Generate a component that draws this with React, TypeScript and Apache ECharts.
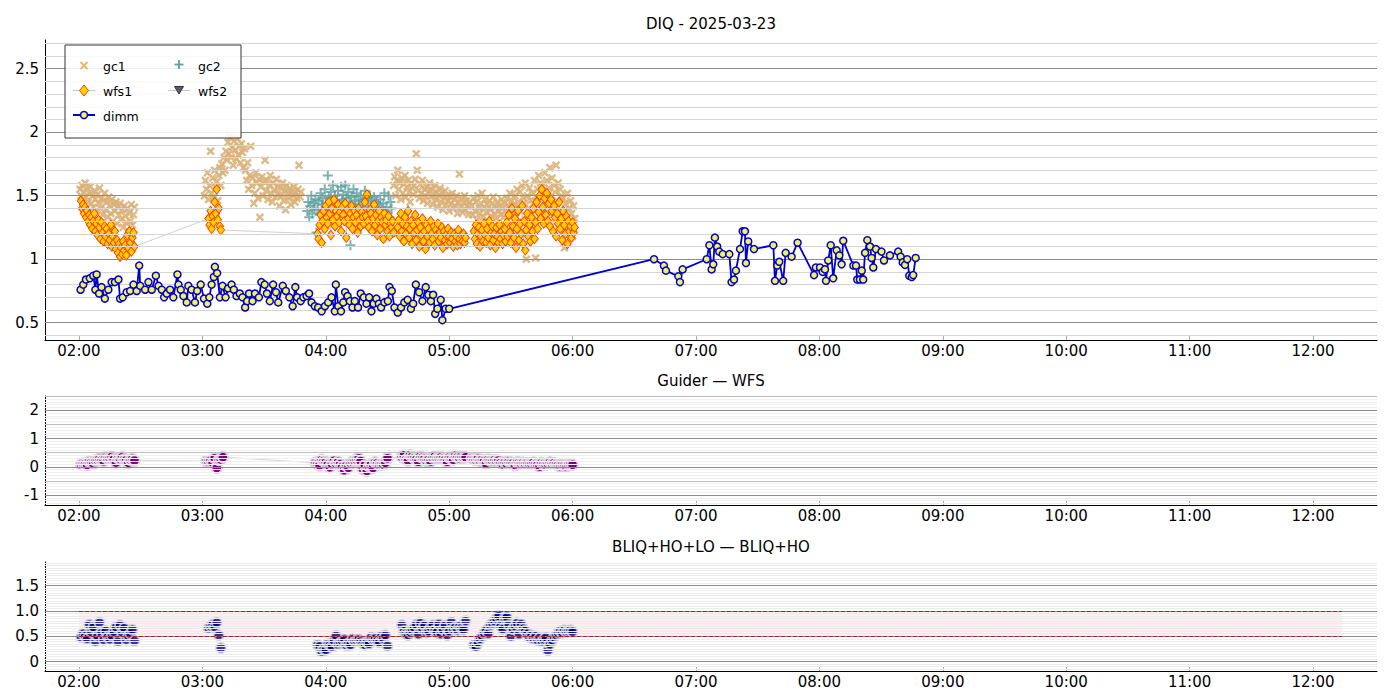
import React, { useEffect, useRef } from "react";
import * as echarts from "echarts";

// ---------- axes / ticks ----------
const X_MIN = 103.5; // minutes after 00:00
const X_MAX = 751.1;
const X_TICKS = [120, 180, 240, 300, 360, 420, 480, 540, 600, 660, 720];
const Y1_TICKS = [0.5, 1, 1.5, 2, 2.5];
const Y2_TICKS = [-1, 0, 1, 2];
const Y3_TICKS = [0, 0.5, 1.0, 1.5];
const CADENCE_GC_WFS = 0.5; // minutes between gc / wfs samples
const CADENCE_DIFF = 1.0; // minutes between difference samples (panels 2, 3)

// ---------- gc1 (start minute of each segment + values) ----------
const gc1Starts = [120.5, 181, 273, 311];
const gc1A = [
  1.55, 1.5, 1.58, 1.47, 1.53, 1.6, 1.49, 1.56, 1.45, 1.52,
  1.57, 1.44, 1.5, 1.41, 1.54, 1.47, 1.38, 1.51, 1.44, 1.56,
  1.4, 1.48, 1.35, 1.46, 1.52, 1.39, 1.45, 1.33, 1.49, 1.42,
  1.36, 1.47, 1.3, 1.43, 1.38, 1.45, 1.28, 1.41, 1.35, 1.44,
  1.31, 1.39, 1.25, 1.42, 1.34, 1.29, 1.4, 1.22, 1.36, 1.3,
  1.43, 1.27, 1.35, 1.41,
];
const gc1B = [
  1.5, 1.62, 1.55, 1.68, 1.47, 1.58, 1.85, 1.52, 1.64, 1.49, 1.7, 1.56, 1.61, 1.46, 1.66,
  1.72, 1.58, 1.75, 1.68, 1.8, 1.7,
  1.85, 1.78, 1.92, 1.83, 1.96, 1.8, 1.88, 1.74, 1.93, 1.86, 1.79, 1.95, 1.82, 1.89, 1.76, 1.91, 1.84, 1.72, 1.87, 1.7,
  1.62, 1.76, 1.55, 1.66, 1.89, 1.58, 1.64, 1.44, 1.52, 1.68, 1.6, 1.48, 1.63, 1.33, 1.57, 1.65, 1.5, 1.61, 1.78, 1.54,
  1.62, 1.47, 1.58, 1.66, 1.52, 1.45, 1.6, 1.55, 1.49, 1.63, 1.51, 1.57, 1.42, 1.56, 1.5, 1.6, 1.46, 1.54, 1.39, 1.58,
  1.52, 1.48, 1.56, 1.43, 1.53, 1.5, 1.57, 1.45, 1.52, 1.48, 1.55, 1.74, 1.49, 1.53,
];
const gc1D = [
  1.58, 1.65, 1.5, 1.62, 1.7, 1.55, 1.6, 1.47, 1.64, 1.52,
  1.59, 1.66, 1.49, 1.57, 1.62, 1.53, 1.45, 1.6, 1.56, 1.51,
  1.58, 1.63, 1.83, 1.7, 1.54, 1.48, 1.59, 1.52, 1.62, 1.46,
  1.55, 1.5, 1.57, 1.44, 1.53, 1.6, 1.49, 1.55, 1.43, 1.51,
  1.58, 1.47, 1.53, 1.41, 1.5, 1.56, 1.45, 1.52, 1.39, 1.48,
  1.54, 1.43, 1.5, 1.46, 1.38, 1.49, 1.44, 1.52, 1.4, 1.47,
  1.42, 1.5, 1.36, 1.45, 1.67, 1.41, 1.48, 1.37, 1.44, 1.5,
  1.39, 1.46, 1.42, 1.35, 1.45,
];
const gc1E = [
  1.42, 1.35, 1.48, 1.38, 1.45, 1.31, 1.5, 1.4, 1.36, 1.44,
  1.52, 1.33, 1.41, 1.47, 1.37, 1.43, 1.3, 1.46, 1.39, 1.34,
  1.44, 1.49, 1.36, 1.41, 1.32, 1.45, 1.38, 1.42, 1.35, 1.47,
  1.4, 1.33, 1.44, 1.38, 1.48, 1.36, 1.42, 1.52, 1.39, 1.46,
  1.34, 1.43, 1.5, 1.37, 1.55, 1.45, 1.41, 1.53, 1.38, 1.58,
  1.48, 1.44, 1.6, 1.0, 1.5, 1.4, 1.56, 1.46, 1.36, 1.52,
  1.43, 1.62, 1.01, 1.49,
  1.55, 1.66, 1.47, 1.6, 1.4, 1.58, 1.52, 1.68, 1.44, 1.62,
  1.5, 1.56, 1.72, 1.48, 1.64, 1.42, 1.58, 1.53, 1.74, 1.46,
  1.6, 1.38, 1.55, 1.5, 1.35, 1.48, 1.09, 1.44, 1.3, 1.52,
  1.4, 1.25, 1.46, 1.36, 1.18, 1.42, 1.32,
];

// ---------- gc2 ----------
const gc2Start = 231;
const gc2C = [
  1.38, 1.45, 1.33, 1.42, 1.5, 1.36, 1.44, 1.4, 1.47, 1.21,
  1.39, 1.46, 1.35, 1.52, 1.43, 1.48, 1.37, 1.55, 1.44, 1.41,
  1.66, 1.49, 1.38, 1.53, 1.45, 1.58, 1.4, 1.5, 1.36, 1.47,
  1.54, 1.43, 1.39, 1.57, 1.46, 1.51, 1.42, 1.58, 1.48, 1.37,
  1.53, 1.44, 1.11, 1.49, 1.4, 1.55, 1.46, 1.42, 1.52, 1.38,
  1.47, 1.43, 1.5, 1.36, 1.45, 1.41, 1.54, 1.39, 1.48, 1.44,
  1.35, 1.5, 1.42, 1.46, 1.33, 1.49, 1.4, 1.45, 1.37, 1.43,
  1.3, 1.47, 1.39, 1.34, 1.44, 1.52, 1.38, 1.41, 1.36, 1.5,
  1.33, 1.45, 1.4,
];

// ---------- wfs1 ----------
const wfs1Starts = [121, 183, 236, 275, 312];
const wfs1A = [
  1.46, 1.4, 1.43, 1.36, 1.41, 1.33, 1.38, 1.3, 1.35, 1.27,
  1.33, 1.24, 1.3, 1.36, 1.22, 1.28, 1.19, 1.31, 1.25, 1.16,
  1.29, 1.21, 1.14, 1.26, 1.18, 1.24, 1.12, 1.2, 1.15, 1.27,
  1.1, 1.18, 1.13, 1.22, 1.08, 1.15, 1.05, 1.12, 1.02, 1.09,
  1.04, 1.14, 1.07, 1.11, 1.03, 1.19, 1.09, 1.22, 1.13, 1.06,
  1.17, 1.21, 1.1,
];
const wfs1B = [1.32, 1.27, 1.38, 1.24, 1.34, 1.29, 1.45, 1.36, 1.55, 1.31, 1.4, 1.26, 1.23];
const wfs1C = [
  1.2, 1.16, 1.27, 1.35, 1.13, 1.3, 1.38, 1.24, 1.42, 1.33,
  1.28, 1.45, 1.36, 1.19, 1.4, 1.31, 1.47, 1.26, 1.38, 1.34,
  1.43, 1.29, 1.37, 1.22, 1.41, 1.35, 1.3, 1.44, 1.17, 1.39,
  1.32, 1.27, 1.36, 1.42, 1.24, 1.33, 1.38, 1.29, 1.35, 1.21,
  1.4, 1.31, 1.26, 1.37, 1.33, 1.28, 1.45, 1.34, 1.51, 1.3,
  1.25, 1.39, 1.36, 1.22, 1.32, 1.43, 1.27, 1.35, 1.19, 1.3,
  1.38, 1.24, 1.33, 1.29, 1.16, 1.36, 1.27, 1.31, 1.22, 1.34,
  1.18, 1.28, 1.25, 1.3, 1.21,
];
const wfs1D = [
  1.25, 1.31, 1.18, 1.36, 1.22, 1.28, 1.14, 1.33, 1.2, 1.26,
  1.38, 1.17, 1.24, 1.3, 1.12, 1.27, 1.21, 1.35, 1.15, 1.23,
  1.29, 1.1, 1.25, 1.19, 1.32, 1.14, 1.22, 1.08, 1.27, 1.18,
  1.24, 1.13, 1.3, 1.2, 1.16, 1.26, 1.11, 1.23, 1.19, 1.28,
  1.14, 1.21, 1.17, 1.25, 1.09, 1.22, 1.15, 1.19, 1.12, 1.24,
  1.18, 1.13, 1.21, 1.16, 1.1, 1.2, 1.14, 1.18, 1.11, 1.23,
  1.16, 1.12, 1.19, 1.14, 1.2, 1.13, 1.17,
];
const wfs1E = [
  1.22, 1.16, 1.27, 1.12, 1.2, 1.25, 1.1, 1.18, 1.23, 1.14,
  1.28, 1.19, 1.13, 1.24, 1.17, 1.3, 1.11, 1.21, 1.26, 1.15,
  1.2, 1.09, 1.25, 1.18, 1.13, 1.27, 1.16, 1.22, 1.12, 1.19,
  1.24, 1.14, 1.29, 1.18, 1.35, 1.21, 1.13, 1.4, 1.26, 1.17,
  1.32, 1.09, 1.24, 1.38, 1.15, 1.28, 1.2, 1.42, 1.12, 1.3,
  1.07, 1.23, 1.36, 1.18, 1.27, 1.14, 1.33, 1.22, 1.4, 1.16,
  1.29, 1.45, 1.24, 1.37, 1.5, 1.32, 1.55, 1.41, 1.28, 1.48,
  1.35, 1.52, 1.3, 1.44, 1.26, 1.47, 1.38, 1.22, 1.42, 1.33,
  1.18, 1.36, 1.28, 1.45, 1.24, 1.32, 1.15, 1.38, 1.27, 1.2,
  1.34, 1.12, 1.3, 1.22, 1.26, 1.17, 1.29, 1.21, 1.25,
];

// ---------- dimm: [minute after 00:00, seeing] ----------
const dimmData: [number, number][] = [
  [120.8, 0.76], [122.1, 0.8], [123.4, 0.84], [125.3, 0.85], [127.0, 0.87], [128.0, 0.76], [128.6, 0.88],
  [129.8, 0.73], [131.0, 0.78], [132.6, 0.69], [134.3, 0.76], [135.9, 0.82], [137.5, 0.82], [139.2, 0.84],
  [140.0, 0.69], [141.3, 0.7], [143.2, 0.74], [144.9, 0.75], [146.5, 0.8], [148.1, 0.75], [149.3, 0.95],
  [149.8, 0.79], [152.2, 0.76], [153.8, 0.82], [155.4, 0.76], [157.4, 0.87], [158.7, 0.79], [160.3, 0.76],
  [161.4, 0.7], [162.7, 0.73], [164.3, 0.76], [165.9, 0.7], [167.9, 0.88], [168.4, 0.8], [169.5, 0.76],
  [170.8, 0.71], [172.4, 0.66], [173.2, 0.79], [174.8, 0.76], [176.4, 0.66], [177.5, 0.75], [179.2, 0.8],
  [180.8, 0.69], [182.4, 0.65], [183.4, 0.7], [184.5, 0.8], [185.6, 0.86], [186.1, 0.94], [187.2, 0.89],
  [188.5, 0.7], [189.8, 0.79], [191.3, 0.7], [192.5, 0.77], [194.2, 0.8], [195.3, 0.76], [196.6, 0.71],
  [198.2, 0.73], [199.5, 0.7], [200.8, 0.62], [201.8, 0.67], [202.7, 0.73], [204.4, 0.67], [205.6, 0.73],
  [207.5, 0.7], [208.7, 0.82], [210.3, 0.8], [211.4, 0.73], [212.8, 0.67], [214.4, 0.8], [215.8, 0.74],
  [216.9, 0.66], [219.1, 0.79], [220.6, 0.75], [222.3, 0.7], [223.9, 0.63], [225.2, 0.78], [226.1, 0.7],
  [227.8, 0.67], [229.1, 0.7], [230.7, 0.71], [231.9, 0.73], [233.1, 0.66], [234.7, 0.63], [236.3, 0.62],
  [238.0, 0.59], [239.6, 0.63], [241.2, 0.66], [242.8, 0.7], [244.4, 0.59], [244.9, 0.8], [246.1, 0.63],
  [247.4, 0.59], [248.5, 0.66], [249.4, 0.74], [250.6, 0.71], [251.7, 0.67], [253.0, 0.62], [254.1, 0.67],
  [255.7, 0.62], [257.0, 0.73], [258.5, 0.7], [259.8, 0.65], [261.1, 0.7], [262.2, 0.59], [263.3, 0.65],
  [264.6, 0.69], [265.8, 0.65], [266.9, 0.62], [268.5, 0.66], [270.2, 0.67], [271.0, 0.78], [272.1, 0.75],
  [273.4, 0.62], [275.0, 0.58], [276.6, 0.62], [278.2, 0.66], [279.8, 0.68], [281.4, 0.61], [282.5, 0.65],
  [283.8, 0.8], [285.4, 0.74], [287.0, 0.67], [288.6, 0.78], [289.9, 0.72], [291.1, 0.67], [292.2, 0.72],
  [293.2, 0.57], [294.3, 0.61], [295.9, 0.68], [296.7, 0.52], [298.3, 0.61], [300.0, 0.61],
  [399.6, 1.0], [404.4, 0.95], [405.4, 0.91], [411.4, 0.865], [412.2, 0.82], [413.5, 0.92], [425.2, 1.0],
  [426.5, 1.11], [427.6, 0.92], [428.4, 0.96], [429.2, 1.17], [430.3, 1.1], [431.3, 1.06], [433.0, 1.04],
  [436.2, 1.04], [437.3, 0.82], [438.5, 0.84], [439.4, 0.91], [441.4, 1.08], [442.7, 1.22], [443.8, 1.22],
  [444.3, 0.97], [445.4, 1.14], [448.2, 1.08], [457.6, 1.11], [458.4, 0.83], [459.5, 0.95], [460.5, 0.98],
  [462.4, 0.83], [463.6, 1.05], [466.5, 1.02], [469.4, 1.13], [477.4, 0.875], [478.3, 0.935], [480.3, 0.935],
  [481.6, 0.9], [482.7, 0.92], [483.2, 0.83], [484.3, 0.99], [485.5, 1.11], [486.7, 0.85], [488.4, 1.07],
  [489.7, 1.03], [490.8, 0.96], [491.6, 1.145], [496.5, 0.95], [497.8, 0.95], [498.4, 0.84], [499.7, 0.84],
  [500.6, 0.91], [501.3, 0.84], [502.2, 1.05], [503.3, 1.15], [504.6, 1.1], [505.4, 1.01], [506.2, 0.935],
  [507.5, 1.08], [510.2, 1.06], [511.4, 0.99], [514.3, 1.03], [518.3, 1.06], [519.5, 1.02], [520.5, 0.975],
  [521.6, 0.955], [522.7, 1.0], [523.7, 0.87], [524.9, 0.86], [525.6, 0.875], [526.8, 1.01],
];

// ---------- Guider - WFS ----------
const gwStarts = [121, 182, 235, 277, 311];
const gwA = [
  0.08, 0.12, 0.1, 0.06, 0.18, 0.15, 0.12, 0.22, 0.25, 0.28,
  0.23, 0.2, 0.33, 0.29, 0.31, 0.35, 0.27, 0.15, 0.3, 0.28,
  0.34, 0.26, 0.23, 0.14, 0.25, 0.28, 0.22,
];
const gwB = [0.2, 0.18, 0.22, 0.15, 0.3, -0.04, 0.24, 0.26, 0.34];
const gwC = [
  0.14, 0.1, 0.05, 0.25, 0.2, 0.16, 0.08, -0.02, 0.1, 0.21,
  0.12, 0.17, 0.09, 0.0, -0.12, 0.04, -0.03, 0.13, 0.18, 0.22,
  0.26, 0.3, 0.2, -0.08, 0.05, -0.15, 0.02, 0.07, -0.04, 0.16,
  0.12, 0.06, 0.1, 0.08, 0.14, 0.3,
];
const gwD = [
  0.35, 0.4, 0.25, 0.22, 0.42, 0.36, 0.3, 0.26, 0.18, 0.37,
  0.32, 0.28, 0.21, 0.26, 0.19, 0.33, 0.36, 0.29, 0.31, 0.34,
  0.28, 0.24, 0.18, 0.33, 0.29, 0.25, 0.39, 0.34, 0.3, 0.36,
  0.32, 0.34,
];
const gwE = [
  0.3, 0.26, 0.24, 0.28, 0.21, 0.25, 0.2, 0.11, 0.26, 0.22,
  0.2, 0.24, 0.19, 0.22, 0.14, 0.09, 0.15, 0.11, 0.19, 0.14,
  0.12, 0.06, 0.16, 0.15, 0.12, 0.14, 0.11, 0.13, 0.1, 0.12,
  0.15, 0.09, 0.06, 0.01, 0.14, 0.1, 0.07, 0.12, 0.16, 0.11,
  0.13, 0.08, 0.05, 0.02, 0.07, 0.04, 0.01, 0.06, 0.09, 0.07,
];

// ---------- BLIQ+HO+LO - BLIQ+HO ----------
const blStarts = [121, 183, 236, 277, 312];
const blA = [
  0.48, 0.55, 0.5, 0.45, 0.73, 0.58, 0.68, 0.4, 0.5, 0.77,
  0.57, 0.43, 0.61, 0.49, 0.44, 0.51, 0.59, 0.68, 0.4, 0.72,
  0.57, 0.66, 0.43, 0.5, 0.55, 0.63, 0.41,
];
const blB = [0.66, 0.7, 0.73, 0.68, 0.77, 0.52, 0.27];
const blC = [
  0.33, 0.3, 0.2, 0.25, 0.23, 0.35, 0.33, 0.3, 0.41, 0.51,
  0.34, 0.37, 0.4, 0.44, 0.32, 0.36, 0.33, 0.45, 0.4, 0.42,
  0.44, 0.4, 0.36, 0.33, 0.38, 0.35, 0.48, 0.44, 0.46, 0.41,
  0.38, 0.5, 0.45, 0.52, 0.31,
];
const blD = [
  0.72, 0.6, 0.55, 0.52, 0.58, 0.62, 0.67, 0.73, 0.54, 0.76,
  0.65, 0.71, 0.57, 0.6, 0.68, 0.72, 0.62, 0.58, 0.74, 0.54,
  0.63, 0.71, 0.52, 0.6, 0.78, 0.64, 0.68, 0.62, 0.7, 0.66,
  0.63, 0.8,
];
const blE = [
  0.33, 0.3, 0.38, 0.45, 0.5, 0.56, 0.62, 0.55, 0.72, 0.76,
  0.8, 0.85, 0.9, 0.7, 0.64, 0.86, 0.88, 0.72, 0.5, 0.64,
  0.7, 0.76, 0.54, 0.74, 0.65, 0.61, 0.55, 0.48, 0.52, 0.45,
  0.5, 0.42, 0.47, 0.4, 0.44, 0.48, 0.22, 0.34, 0.42, 0.48,
  0.52, 0.56, 0.6, 0.57, 0.62, 0.58, 0.6, 0.62, 0.59,
];

// target band for panel 3
const BAND_LOW = 0.5;
const BAND_HIGH = 1.0;
const BAND_START = 120;
const BAND_END = 734;

// ---------- helpers ----------
const FONT = "DejaVu Sans";
const seg = (start: number, vals: number[], step: number) => vals.map((v, i) => [start + i * step, v]);
const segs = (starts: number[], list: number[][], step: number) =>
  list.reduce((acc: number[][], vals, k) => acc.concat(seg(starts[k], vals, step)), []);

const fmtTime = (v: number) => {
  const h = Math.floor(v / 60);
  const m = Math.round(v - h * 60);
  return String(h).padStart(2, "0") + ":" + String(m).padStart(2, "0");
};

const X_PATH = "path://M0,2 L2,0 L5,3 L8,0 L10,2 L7,5 L10,8 L8,10 L5,7 L2,10 L0,8 L3,5 Z";
const PLUS_PATH = "path://M4,0 H6 V4 H10 V6 H6 V10 H4 V6 H0 V4 H4 Z";

function levels(from: number, to: number, div: number, skipEvery: number) {
  const out: number[] = [];
  for (let k = from; k <= to; k++) if (k % skipEvery !== 0) out.push(k / div);
  return out;
}

function gridLineSeries(idx: number, groups: { vals: number[]; color: string }[]) {
  const data: any[] = [];
  groups.forEach((g) =>
    g.vals.forEach((v) => data.push({ yAxis: v, lineStyle: { color: g.color, width: 1, type: "solid" } }))
  );
  return {
    type: "line",
    xAxisIndex: idx,
    yAxisIndex: idx,
    data: [],
    silent: true,
    z: 0,
    markLine: { silent: true, symbol: ["none", "none"], label: { show: false }, data },
  };
}

function xAxis(idx: number) {
  return {
    type: "value",
    gridIndex: idx,
    min: X_MIN,
    max: X_MAX,
    axisLine: { show: true, onZero: false, lineStyle: { color: "#000", width: 1 } },
    axisTick: { show: true, inside: true, length: 4, customValues: X_TICKS, lineStyle: { color: "#aaa" } },
    axisLabel: { customValues: X_TICKS, formatter: fmtTime, fontSize: 15, fontFamily: FONT, color: "#000", margin: 3 },
    splitLine: { show: false },
  };
}

function yAxis(idx: number, min: number, max: number, ticks: number[], fmt?: (v: number) => string) {
  return {
    type: "value",
    gridIndex: idx,
    min,
    max,
    axisLine: { show: true, onZero: false, lineStyle: { color: "#000", width: 1 } },
    axisTick: { show: false },
    axisLabel: { customValues: ticks, fontSize: 15, fontFamily: FONT, color: "#000", margin: 6, formatter: fmt },
    splitLine: { show: false },
  };
}

function buildOption() {
  const gc1 = segs(gc1Starts, [gc1A, gc1B, gc1D, gc1E], CADENCE_GC_WFS);
  const gc2 = seg(gc2Start, gc2C, CADENCE_GC_WFS);
  const wfs1 = segs(wfs1Starts, [wfs1A, wfs1B, wfs1C, wfs1D, wfs1E], CADENCE_GC_WFS);
  const guider = segs(gwStarts, [gwA, gwB, gwC, gwD, gwE], CADENCE_DIFF);
  const bliq = segs(blStarts, [blA, blB, blC, blD, blE], CADENCE_DIFF);

  const txt = (x: number, y: number, text: string, size: number, align = "left") => ({
    type: "text",
    x,
    y,
    z: 20,
    style: { text, fontSize: size, fontFamily: FONT, fill: "#000", align, verticalAlign: "middle" },
  });
  const ln = (x1: number, y1: number, x2: number, y2: number, stroke: string, lw: number) => ({
    type: "line",
    z: 20,
    shape: { x1, y1, x2, y2 },
    style: { stroke, lineWidth: lw },
  });

  return {
    animation: false,
    backgroundColor: "#fff",
    grid: [
      { left: 45, right: 23, top: 40, height: 300 },
      { left: 45, right: 23, top: 396, height: 109 },
      { left: 45, right: 23, top: 562, height: 109 },
    ],
    xAxis: [xAxis(0), xAxis(1), xAxis(2)],
    yAxis: [
      yAxis(0, 0.364, 2.726, Y1_TICKS),
      yAxis(1, -1.353, 2.505, Y2_TICKS),
      yAxis(2, -0.186, 1.966, Y3_TICKS, (v: number) => (v === 0 ? "0" : v.toFixed(1))),
    ],
    series: [
      gridLineSeries(0, [
        { vals: levels(4, 27, 10, 5), color: "#d4d4d4" },
        { vals: Y1_TICKS, color: "#8c8c8c" },
      ]),
      gridLineSeries(1, [
        { vals: levels(-13, 25, 10, 5), color: "#efefef" },
        { vals: [-0.5, 0.5, 1.5, 2.5], color: "#bdbdbd" },
        { vals: Y2_TICKS, color: "#8c8c8c" },
      ]),
      gridLineSeries(2, [
        { vals: levels(-3, 39, 20, 10), color: "#ececec" },
        { vals: Y3_TICKS, color: "#8c8c8c" },
      ]),
      {
        name: "gc1",
        type: "scatter",
        xAxisIndex: 0,
        yAxisIndex: 0,
        data: gc1,
        symbol: X_PATH,
        symbolSize: 8.5,
        silent: true,
        z: 2,
        itemStyle: { color: "#d9b076", opacity: 0.88 },
      },
      {
        name: "gc2",
        type: "scatter",
        xAxisIndex: 0,
        yAxisIndex: 0,
        data: gc2,
        symbol: PLUS_PATH,
        symbolSize: 10,
        silent: true,
        z: 3,
        itemStyle: { color: "#5b9c9c", opacity: 0.78 },
      },
      {
        name: "wfs1",
        type: "line",
        xAxisIndex: 0,
        yAxisIndex: 0,
        data: wfs1,
        symbol: "diamond",
        symbolSize: [7.5, 9.5],
        showAllSymbol: true,
        silent: true,
        z: 4,
        lineStyle: { color: "#c4c4c4", width: 0.8 },
        itemStyle: { color: "#ffd000", borderColor: "#ff3c00", borderWidth: 0.9 },
      },
      {
        name: "dimm",
        type: "line",
        xAxisIndex: 0,
        yAxisIndex: 0,
        data: dimmData,
        symbol: "circle",
        symbolSize: 7,
        showAllSymbol: true,
        silent: true,
        z: 5,
        lineStyle: { color: "#0000cd", width: 1.8 },
        itemStyle: { color: "#f2f25c", borderColor: "#0000cd", borderWidth: 1.5 },
      },
      {
        name: "Guider — WFS",
        type: "line",
        xAxisIndex: 1,
        yAxisIndex: 1,
        data: guider,
        symbol: "circle",
        symbolSize: 10.5,
        showAllSymbol: true,
        silent: true,
        z: 3,
        lineStyle: { color: "#c8c8c8", width: 0.8 },
        itemStyle: { color: "#800080", borderColor: "#dccfdc", borderWidth: 1.8 },
      },
      {
        type: "line",
        xAxisIndex: 2,
        yAxisIndex: 2,
        data: [],
        silent: true,
        z: 1,
        markArea: {
          silent: true,
          itemStyle: { color: "rgba(240,128,128,0.13)" },
          data: [[{ coord: [BAND_START, BAND_LOW] }, { coord: [BAND_END, BAND_HIGH] }]],
        },
        markLine: {
          silent: true,
          symbol: ["none", "none"],
          label: { show: false },
          lineStyle: { color: "#b0202c", width: 1, type: [4, 2] },
          data: [
            [{ coord: [BAND_START, BAND_HIGH] }, { coord: [BAND_END, BAND_HIGH] }],
            [{ coord: [BAND_START, BAND_LOW] }, { coord: [BAND_END, BAND_LOW] }],
          ],
        },
      },
      {
        name: "BLIQ+HO+LO — BLIQ+HO",
        type: "scatter",
        xAxisIndex: 2,
        yAxisIndex: 2,
        data: bliq,
        symbol: "circle",
        symbolSize: 10,
        silent: true,
        z: 3,
        itemStyle: { color: "#000080", borderColor: "#c9cce0", borderWidth: 1.8 },
      },
    ],
    graphic: [
      txt(711, 24, "DIQ - 2025-03-23", 15, "center"),
      txt(711, 381, "Guider — WFS", 15, "center"),
      txt(711, 547, "BLIQ+HO+LO — BLIQ+HO", 15, "center"),
      {
        type: "rect",
        z: 19,
        shape: { x: 65, y: 45, width: 176, height: 93 },
        style: { fill: "rgba(255,255,255,0.85)", stroke: "#333", lineWidth: 1 },
      },
      // gc1
      ln(80.5, 62, 87.5, 69, "#e6b862", 2),
      ln(80.5, 69, 87.5, 62, "#e6b862", 2),
      txt(103, 66, "gc1", 12.5),
      // gc2
      ln(174.5, 64.5, 183.5, 64.5, "#5f9e9e", 1.8),
      ln(179, 60, 179, 69, "#5f9e9e", 1.8),
      txt(198, 66, "gc2", 12.5),
      // wfs1
      ln(73, 90.5, 95, 90.5, "#c4c4c4", 1),
      {
        type: "polygon",
        z: 20,
        shape: { points: [[84, 85], [88.5, 90.5], [84, 96], [79.5, 90.5]] },
        style: { fill: "#ffd000", stroke: "#ff3c00", lineWidth: 1 },
      },
      txt(103, 91, "wfs1", 12.5),
      // wfs2
      ln(168, 90.5, 190, 90.5, "#c4c4c4", 1),
      {
        type: "polygon",
        z: 20,
        shape: { points: [[174.5, 86.5], [183.5, 86.5], [179, 94]] },
        style: { fill: "#5c5c6c", stroke: "#333", lineWidth: 1 },
      },
      txt(198, 91, "wfs2", 12.5),
      // dimm
      ln(73, 115, 95, 115, "#0000cd", 2),
      {
        type: "circle",
        z: 21,
        shape: { cx: 84, cy: 115, r: 3.5 },
        style: { fill: "#f2f25c", stroke: "#0000cd", lineWidth: 1.5 },
      },
      txt(103, 116, "dimm", 12.5),
    ],
  };
}

export default function App() {
  const ref = useRef<HTMLDivElement>(null);
  useEffect(() => {
    if (!ref.current) return;
    const chart = echarts.init(ref.current, undefined, { renderer: "svg" });
    chart.setOption(buildOption() as any);
    return () => chart.dispose();
  }, []);
  return (
    <div
      ref={ref}
      style={{ position: "absolute", left: 0, top: 0, width: 1400, height: 700, background: "#fff" }}
    />
  );
}
